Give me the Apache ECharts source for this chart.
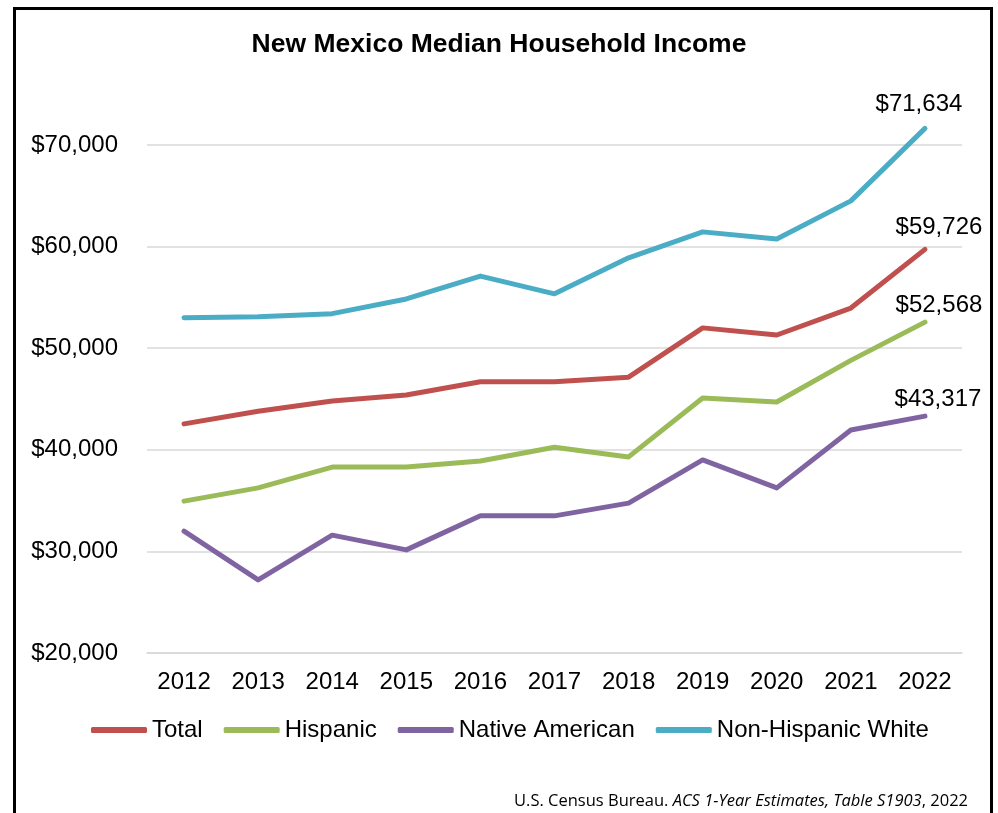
<!DOCTYPE html>
<html>
<head>
<meta charset="utf-8">
<title>New Mexico Median Household Income</title>
<script src="https://cdn.jsdelivr.net/npm/echarts@6/dist/echarts.min.js"></script>
<style>
  html, body { margin: 0; padding: 0; background: #fff; }
  #chart { width: 998px; height: 813px; }
</style>
</head>
<body>
<div id="chart"></div>
<script>
// Survey years on the x axis
const years = ['2012', '2013', '2014', '2015', '2016', '2017', '2018', '2019', '2020', '2021', '2022'];

// Median household income by group (USD)
const total = [42550, 43800, 44800, 45400, 46700, 46700, 47150, 52000, 51300, 53950, 59726];
const hispanic = [34950, 36250, 38300, 38300, 38900, 40250, 39300, 45100, 44700, 48800, 52568];
const nativeAmerican = [32000, 27200, 31600, 30150, 33500, 33500, 34750, 39000, 36250, 41950, 43317];
const nonHispanicWhite = [53000, 53100, 53400, 54850, 57100, 55350, 58900, 61450, 60750, 64500, 71634];

// Y axis range and step
const yMin = 20000;
const yMax = 70000;
const yStep = 10000;

const FONT = 'Liberation Sans, Arial, sans-serif';

const fmtMoney = v => '$' + v.toLocaleString('en-US');

function makeSeries(name, values, color, labelOffset) {
  const last = values.length - 1;
  return {
    name: name,
    type: 'line',
    data: values.map((v, i) => i === last ? {
      value: v,
      label: {
        show: true,
        position: 'top',
        distance: 5,
        offset: labelOffset,
        formatter: p => fmtMoney(p.value),
        fontFamily: FONT,
        fontSize: 24,
        color: '#000'
      }
    } : v),
    showSymbol: true,
    symbol: 'circle',
    symbolSize: 0,
    clip: false,
    lineStyle: { color: color, width: 5, cap: 'round', join: 'round' },
    itemStyle: { color: color },
    emphasis: { disabled: true },
    z: 3
  };
}

const chart = echarts.init(document.getElementById('chart'), null, { renderer: 'canvas' });

chart.setOption({
  animation: false,
  backgroundColor: '#fff',
  title: {
    text: 'New Mexico Median Household Income',
    left: 'center',
    top: 26,
    textStyle: { fontFamily: FONT, fontSize: 26.5, fontWeight: 'bold', color: '#000' }
  },
  grid: { left: 147, right: 36, top: 145, bottom: 160, containLabel: false },
  xAxis: {
    type: 'category',
    data: years,
    boundaryGap: true,
    axisLine: { show: true, lineStyle: { color: '#D9D9D9', width: 1.5 } },
    axisTick: { show: false },
    axisLabel: { fontFamily: FONT, fontSize: 24, color: '#000', margin: 17 },
    splitLine: { show: false }
  },
  yAxis: {
    type: 'value',
    min: yMin,
    max: yMax,
    interval: yStep,
    axisLine: { show: false },
    axisTick: { show: false },
    axisLabel: { fontFamily: FONT, fontSize: 24, color: '#000', margin: 29, formatter: v => fmtMoney(v) },
    splitLine: { show: true, lineStyle: { color: '#D9D9D9', width: 1.5 } }
  },
  legend: {
    bottom: 66,
    left: 86,
    icon: 'roundRect',
    itemWidth: 56,
    itemHeight: 6,
    itemGap: 21,
    textStyle: { fontFamily: FONT, fontSize: 24, color: '#000' },
    data: ['Total', 'Hispanic', 'Native American', 'Non-Hispanic White']
  },
  series: [
    makeSeries('Total', total, '#C0504D', [14, -5]),
    makeSeries('Hispanic', hispanic, '#9BBB59', [14, 0]),
    makeSeries('Native American', nativeAmerican, '#8064A2', [13, 0]),
    makeSeries('Non-Hispanic White', nonHispanicWhite, '#4BACC6', [-6, -7])
  ],
  graphic: [
    {
      type: 'rect',
      shape: { x: 14.5, y: 8.5, width: 977, height: 830 },
      style: { fill: 'none', stroke: '#000', lineWidth: 3 },
      silent: true,
      z: 10
    },
    {
      type: 'text',
      right: 30,
      top: 793,
      style: {
        text: '{n|U.S. Census Bureau. }{i|ACS 1-Year Estimates, Table S1903}{n|, 2022}',
        rich: {
          n: { fontFamily: 'Open Sans, sans-serif', fontSize: 16.5, fill: '#000' },
          i: { fontFamily: 'Open Sans, sans-serif', fontSize: 16.5, fontStyle: 'italic', fill: '#000' }
        }
      },
      silent: true
    }
  ]
});
</script>
</body>
</html>
